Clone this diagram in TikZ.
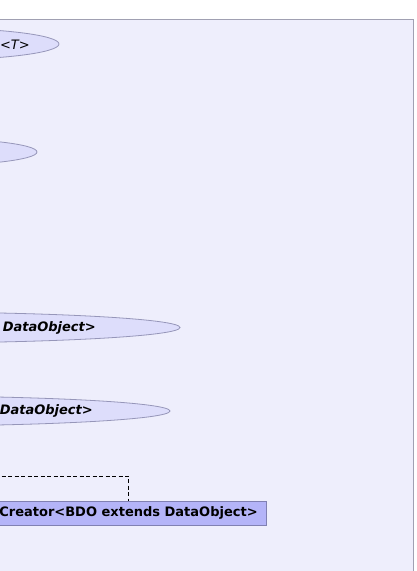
\documentclass[tikz,border=0pt]{standalone}
\usepackage{fontspec}
\setmainfont{DejaVu Sans}
\usetikzlibrary{shapes.geometric}
\definecolor{panelfill}{RGB}{238,238,252}
\definecolor{panelline}{RGB}{160,160,178}
\definecolor{ucfill}{RGB}{221,221,251}
\definecolor{ucline}{RGB}{150,150,185}
\definecolor{boxfill}{RGB}{180,180,248}
\definecolor{boxline}{RGB}{128,128,178}
\tikzset{
  usecase/.style={ellipse,draw=ucline,fill=ucfill,inner sep=0pt,line width=0.8pt},
  uctext/.style={anchor=east,inner sep=0pt,font=\itshape\fontsize{13}{15}\selectfont},
  ucbold/.style={uctext,font=\bfseries\itshape\fontsize{13}{15}\selectfont},
  classbox/.style={rectangle,draw=boxline,fill=boxfill,line width=0.8pt,
    minimum width=275pt,minimum height=24pt,inner sep=0pt,
    font=\bfseries\fontsize{13}{15}\selectfont},
  dep/.style={dashed,dash pattern=on 4pt off 2.5pt,line width=0.8pt}
}
\begin{document}
\begin{tikzpicture}[x=1pt,y=-1pt]
  \useasboundingbox (0,0) rectangle (416,571);
  \clip (0,0) rectangle (416,571);
  % package panel
  \draw[fill=panelfill,draw=panelline,line width=0.8pt] (-20,19) rectangle (413,600);
  % use cases
  \node[usecase,minimum width=260pt,minimum height=32pt] (ucT) at (-71,44) {};
  \node[usecase,minimum width=240pt,minimum height=28pt] (ucB) at (-83,152) {};
  \node[usecase,minimum width=558pt,minimum height=31pt] (ucC) at (-99,327.5) {};
  \node[usecase,minimum width=540pt,minimum height=30pt] (ucD) at (-100,411) {};
  \node[uctext] (ucTtext) at (30,44.5) {<T>};
  \node[ucbold] (ucCtext) at (96,328) {DataObject>};
  \node[ucbold] (ucDtext) at (93,411) {DataObject>};
  % creator class
  \node[classbox] (creator) at (128.5,513) {Creator<BDO extends DataObject>};
  \coordinate (depsrc) at (-5,476);
  \begin{scope}[-]
    \draw[dep] (depsrc) -| (creator.north);
  \end{scope}
\end{tikzpicture}
\end{document}
